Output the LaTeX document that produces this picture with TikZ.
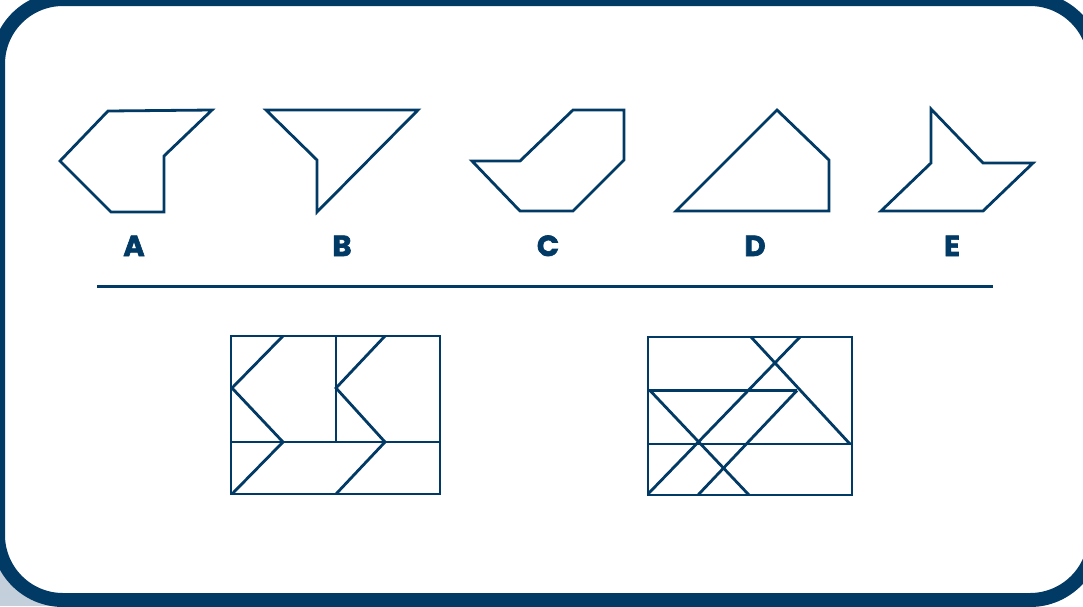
\documentclass[tikz,border=0pt]{standalone}
\usepackage{fontspec}
\newfontfamily\labfont{Poppins}[BoldFeatures={FakeBold=2.2}]
\definecolor{navy}{HTML}{023A66}
\definecolor{cornergray}{HTML}{C3CFDA}
\tikzset{
  fig/.style={draw=navy, line width=2.8pt, line join=miter},
  lab/.style={text=navy, font=\labfont\bfseries\fontsize{29}{30}\selectfont, inner sep=0pt, anchor=base},
}
\begin{document}
\begin{tikzpicture}[x=1pt,y=-1pt]
\useasboundingbox (0,0) rectangle (1083,606);
\clip (0,0) rectangle (1083,606);
\fill[white] (0,0) rectangle (1083,606);
\fill[cornergray] (0,540) rectangle (70,606);
% frame
\draw[navy, line width=14pt, fill=white, rounded corners=65pt] (-2,-1) rectangle (1095,600);

% answer shapes
\draw[fig] (108,111) -- (212,110) -- (164,156) -- (164,212) -- (111,212) -- (60,161) -- cycle;
\draw[fig] (266,110) -- (418,110) -- (317,212) -- (317,160) -- cycle;
\draw[fig] (472,161) -- (520,161) -- (573,110) -- (624,110) -- (624,160) -- (573,211) -- (520,211) -- cycle;
\draw[fig] (676,211) -- (777,110) -- (829,160) -- (829,211) -- cycle;
\draw[fig] (931,109) -- (931,163) -- (881,211) -- (983,211) -- (1033,163) -- (983,163) -- cycle;

% labels
\node[lab] (la) at (134,256) {A};
\node[lab] (lb) at (342,256) {B};
\node[lab] (lc) at (548,256) {C};
\node[lab] (ld) at (755,256) {D};
\node[lab] (le) at (952,256) {E};

% separator
\draw[navy, line width=3pt] (97,286) -- (993,286);

% left grid
\draw[fig] (231,336) rectangle (440,494);
\draw[fig] (231,442) -- (440,442);
\draw[fig] (336,336) -- (336,442);
\draw[fig] (283,336) -- (232,388) -- (283,442) -- (232,494);
\draw[fig] (385,336) -- (336,388) -- (385,442) -- (336,494);

% right grid
\draw[fig] (648,337) rectangle (852,495);
\draw[fig] (648,444) -- (852,444);
\draw[fig] (648,390.5) -- (797,390.5);
\draw[fig] (751,337) -- (850,444);
\draw[fig] (800,337) -- (648,494);
\draw[fig] (797,390.5) -- (698,495);
\draw[fig] (650,390.5) -- (749,495);
\end{tikzpicture}
\end{document}
